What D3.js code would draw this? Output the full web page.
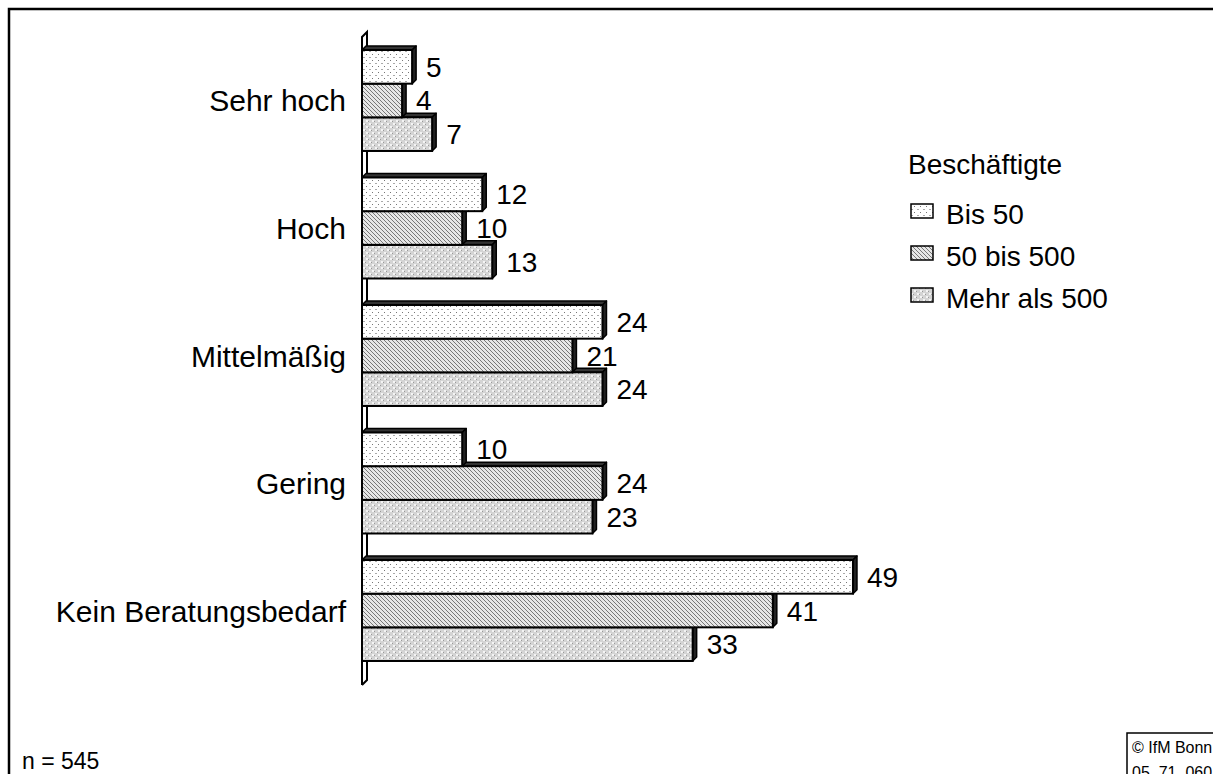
<!DOCTYPE html>
<html>
<head>
<meta charset="utf-8">
<script src="https://cdn.jsdelivr.net/npm/d3@7"></script>
<style>
  html, body { margin: 0; padding: 0; background: #fff; }
  svg { display: block; font-family: "Liberation Sans", Arial, sans-serif; }
</style>
</head>
<body>
<div id="chart"></div>
<script>
// Beratungsbedarf nach Unternehmensgröße (Anteile in %)
const categories = ["Sehr hoch", "Hoch", "Mittelmäßig", "Gering", "Kein Beratungsbedarf"];
const seriesNames = ["Bis 50", "50 bis 500", "Mehr als 500"];
const bis50 = [5, 12, 24, 10, 49];
const bis500 = [4, 10, 21, 24, 41];
const mehr500 = [7, 13, 24, 23, 33];
const seriesValues = [bis50, bis500, mehr500];

const width = 1213, height = 774;
const depth = 4;  // 3d offset of the bars

const svg = d3.select("#chart").append("svg")
  .attr("width", width)
  .attr("height", height);

// fill patterns, roughly like the old office hatchings
const defs = svg.append("defs");

const p0 = defs.append("pattern").attr("id", "pat0")
  .attr("patternUnits", "userSpaceOnUse").attr("width", 6).attr("height", 6);
p0.append("rect").attr("width", 6).attr("height", 6).attr("fill", "#fff");
p0.append("rect").attr("x", 0).attr("y", 0).attr("width", 1).attr("height", 1).attr("fill", "#777");
p0.append("rect").attr("x", 3).attr("y", 3).attr("width", 2).attr("height", 1).attr("fill", "#aaa");

const p1 = defs.append("pattern").attr("id", "pat1")
  .attr("patternUnits", "userSpaceOnUse").attr("width", 4).attr("height", 4);
p1.append("rect").attr("width", 4).attr("height", 4).attr("fill", "#e6e6e6");
p1.append("path").attr("d", "M-1,-1 L5,5 M-1,3 L1,5 M3,-1 L5,1")
  .attr("stroke", "#777").attr("stroke-width", 1);

const p2 = defs.append("pattern").attr("id", "pat2")
  .attr("patternUnits", "userSpaceOnUse").attr("width", 6).attr("height", 6);
p2.append("rect").attr("width", 6).attr("height", 6).attr("fill", "#d4d4d4");
p2.append("rect").attr("x", 0).attr("y", 0).attr("width", 2).attr("height", 2).attr("fill", "#f4f4f4");
p2.append("rect").attr("x", 3).attr("y", 3).attr("width", 2).attr("height", 2).attr("fill", "#f4f4f4");
p2.append("rect").attr("x", 2).attr("y", 1).attr("width", 1).attr("height", 1).attr("fill", "#999");
p2.append("rect").attr("x", 5).attr("y", 4).attr("width", 1).attr("height", 1).attr("fill", "#999");

const patterns = ["url(#pat0)", "url(#pat1)", "url(#pat2)"];

// outer frame (runs off the right and bottom edges)
svg.append("path")
  .attr("d", `M9,${height} V9 H${width}`)
  .attr("fill", "none")
  .attr("stroke", "#000")
  .attr("stroke-width", 2.5);

// scales
const y = d3.scaleBand()
  .domain(categories)
  .range([37, 674])
  .paddingInner(0.208)
  .paddingOuter(0.102);

const ySub = d3.scaleBand()
  .domain(seriesNames)
  .range([0, y.bandwidth()]);

const x = d3.scaleLinear()
  .domain([0, 50])
  .range([362, 863]);

// the thin 3d wall of the category axis
const wallTop = 37, wallBottom = 685;
svg.append("path")
  .attr("d", `M${x(0)},${wallBottom} V${wallTop} L${x(0) + depth + 1},${wallTop - depth - 1} V${wallBottom - depth - 1} L${x(0)},${wallBottom}`)
  .attr("fill", "#fff")
  .attr("stroke", "#000")
  .attr("stroke-width", 2);

// category labels
svg.append("g")
  .selectAll("text")
  .data(categories)
  .join("text")
  .attr("x", 346)
  .attr("y", d => y(d) + y.bandwidth() / 2 + 11)
  .attr("text-anchor", "end")
  .attr("font-size", 30)
  .text(d => d);

// flatten into bar records
const bars = [];
categories.forEach((c, i) => {
  seriesNames.forEach((s, j) => {
    bars.push({cat: c, series: s, idx: j, value: seriesValues[j][i]});
  });
});

// draw bottom bar of a group first, so the upper bars cover the top faces
const ordered = bars.slice().sort((a, b) =>
  categories.indexOf(a.cat) - categories.indexOf(b.cat) || b.idx - a.idx);

const barG = svg.append("g")
  .selectAll("g")
  .data(ordered)
  .join("g");

barG.each(function(d) {
  const g = d3.select(this);
  const x0 = x(0), x1 = x(d.value);
  const y0 = y(d.cat) + ySub(d.series);
  const y1 = y0 + ySub.bandwidth();
  // top face
  g.append("path")
    .attr("d", `M${x0},${y0} L${x0 + depth},${y0 - depth} L${x1 + depth},${y0 - depth} L${x1},${y0} Z`)
    .attr("fill", "#333")
    .attr("stroke", "#000")
    .attr("stroke-width", 1.5)
    .attr("stroke-linejoin", "round");
  // side face
  g.append("path")
    .attr("d", `M${x1},${y0} L${x1 + depth},${y0 - depth} L${x1 + depth},${y1 - depth} L${x1},${y1} Z`)
    .attr("fill", "#222")
    .attr("stroke", "#000")
    .attr("stroke-width", 1.5)
    .attr("stroke-linejoin", "round");
  // front
  g.append("rect")
    .attr("x", x0)
    .attr("y", y0)
    .attr("width", x1 - x0)
    .attr("height", y1 - y0)
    .attr("fill", patterns[d.idx])
    .attr("stroke", "#000")
    .attr("stroke-width", 2);
});

// value labels
svg.append("g")
  .selectAll("text")
  .data(bars)
  .join("text")
  .attr("x", d => x(d.value) + 14)
  .attr("y", d => y(d.cat) + ySub(d.series) + ySub.bandwidth() / 2 + 10)
  .attr("font-size", 28)
  .text(d => d.value);

// legend
const legend = svg.append("g").attr("transform", "translate(908,0)");
legend.append("text")
  .attr("x", 0)
  .attr("y", 174)
  .attr("font-size", 28)
  .text("Beschäftigte");

const item = legend.selectAll("g.item")
  .data(seriesNames)
  .join("g")
  .attr("class", "item")
  .attr("transform", (d, i) => `translate(0,${224 + i * 42})`);
item.append("rect")
  .attr("x", 3)
  .attr("y", -20)
  .attr("width", 22)
  .attr("height", 14)
  .attr("fill", (d, i) => patterns[i])
  .attr("stroke", "#000")
  .attr("stroke-width", 1.5);
item.append("text")
  .attr("x", 38)
  .attr("y", 0)
  .attr("font-size", 28)
  .text(d => d);

// sample size
svg.append("text")
  .attr("x", 22)
  .attr("y", 769)
  .attr("font-size", 23)
  .text("n = 545");

// source box
svg.append("path")
  .attr("d", `M1127,${height} V733 H${width}`)
  .attr("fill", "none")
  .attr("stroke", "#000")
  .attr("stroke-width", 1.5);
svg.append("text")
  .attr("x", 1132)
  .attr("y", 753)
  .attr("font-size", 16)
  .text("© IfM Bonn");
svg.append("text")
  .attr("x", 1132)
  .attr("y", 778)
  .attr("font-size", 16)
  .text("05_71_060");
</script>
</body>
</html>
